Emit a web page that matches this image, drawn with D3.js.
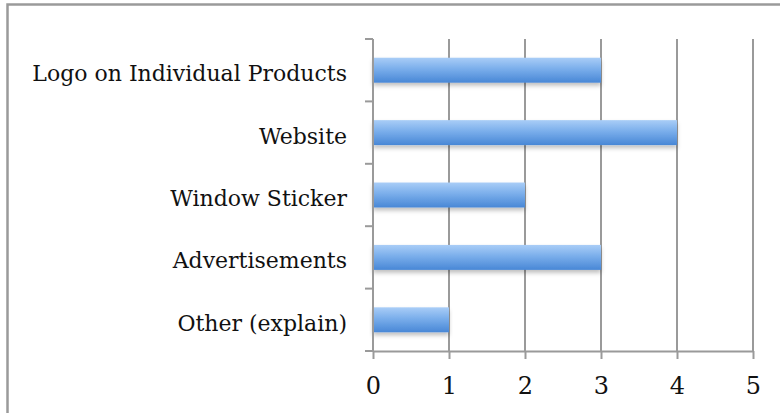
<!DOCTYPE html>
<html>
<head>
<meta charset="utf-8">
<script src="https://cdn.jsdelivr.net/npm/d3@7/dist/d3.min.js"></script>
<style>
  html, body { margin: 0; padding: 0; background: #fff; }
  svg { display: block; }
</style>
</head>
<body>
<svg id="chart" width="780" height="413"></svg>
<script>
// Categories top to bottom and their counts
const categories = ["Logo on Individual Products", "Website", "Window Sticker", "Advertisements", "Other (explain)"];
const counts = [3, 4, 2, 3, 1];
const xTicks = [0, 1, 2, 3, 4, 5];

const svg = d3.select("#chart");
const W = 780, H = 413;
const margin = { left: 373, right: 27, top: 39, bottom: 62 };
const font = "'DejaVu Serif', serif";

// outer frame (top and left edges)
svg.append("path")
  .attr("d", `M7.5,${H} V4.5 H${W}`)
  .attr("fill", "none").attr("stroke", "#9a9a9a").attr("stroke-width", 2.5);

const x = d3.scaleLinear().domain([0, 5]).range([margin.left, W - margin.right]);
const y = d3.scaleBand().domain(categories).range([margin.top, H - margin.bottom]).paddingInner(0.6).paddingOuter(0.3);
const yEdge = d3.scaleLinear().domain([0, categories.length]).range([margin.top, H - margin.bottom]);

const defs = svg.append("defs");
const grad = defs.append("linearGradient").attr("id", "barGrad")
  .attr("x1", 0).attr("y1", 0).attr("x2", 0).attr("y2", 1);
grad.append("stop").attr("offset", "0%").attr("stop-color", "#a9cdf7");
grad.append("stop").attr("offset", "45%").attr("stop-color", "#7aaeeb");
grad.append("stop").attr("offset", "100%").attr("stop-color", "#4887d6");
const shadow = defs.append("filter").attr("id", "shadow").attr("x", "-5%").attr("y", "-20%").attr("width", "110%").attr("height", "160%");
shadow.append("feDropShadow").attr("dx", 0).attr("dy", 3).attr("stdDeviation", 2).attr("flood-color", "#000").attr("flood-opacity", 0.25);

// vertical gridlines
svg.append("g").selectAll("line").data(xTicks.slice(1)).join("line")
  .attr("x1", d => x(d)).attr("x2", d => x(d))
  .attr("y1", margin.top).attr("y2", H - margin.bottom)
  .attr("stroke", "#9a9a9a").attr("stroke-width", 2);

// bars
svg.append("g").selectAll("rect").data(categories).join("rect")
  .attr("x", x(0)).attr("y", d => y(d))
  .attr("width", (d, i) => x(counts[i]) - x(0))
  .attr("height", y.bandwidth())
  .attr("fill", "url(#barGrad)")
  .attr("filter", "url(#shadow)");

// bottom axis
const xAxis = d3.axisBottom(x).tickValues(xTicks).tickFormat(d3.format("d"))
  .tickSize(8).tickPadding(18).tickSizeOuter(0);
const gx = svg.append("g").attr("transform", `translate(0,${H - margin.bottom})`).call(xAxis);
gx.select(".domain").attr("stroke", "#9a9a9a").attr("stroke-width", 2);
gx.selectAll(".tick line").attr("stroke", "#9a9a9a").attr("stroke-width", 2);
gx.selectAll(".tick text").attr("font-family", font).attr("font-size", 24).attr("fill", "#111");

// left axis line with ticks at category boundaries
svg.append("line").attr("x1", x(0)).attr("x2", x(0))
  .attr("y1", margin.top).attr("y2", H - margin.bottom)
  .attr("stroke", "#9a9a9a").attr("stroke-width", 2);
svg.append("g").selectAll("line").data(d3.range(categories.length + 1)).join("line")
  .attr("x1", x(0) - 8).attr("x2", x(0))
  .attr("y1", d => yEdge(d)).attr("y2", d => yEdge(d))
  .attr("stroke", "#9a9a9a").attr("stroke-width", 2);

// category labels
svg.append("g").selectAll("text").data(categories).join("text")
  .attr("x", x(0) - 26)
  .attr("y", d => y(d) + y.bandwidth() / 2)
  .attr("dy", "0.5em")
  .attr("text-anchor", "end")
  .attr("font-family", font).attr("font-size", 22).attr("fill", "#111")
  .text(d => d);
</script>
</body>
</html>
